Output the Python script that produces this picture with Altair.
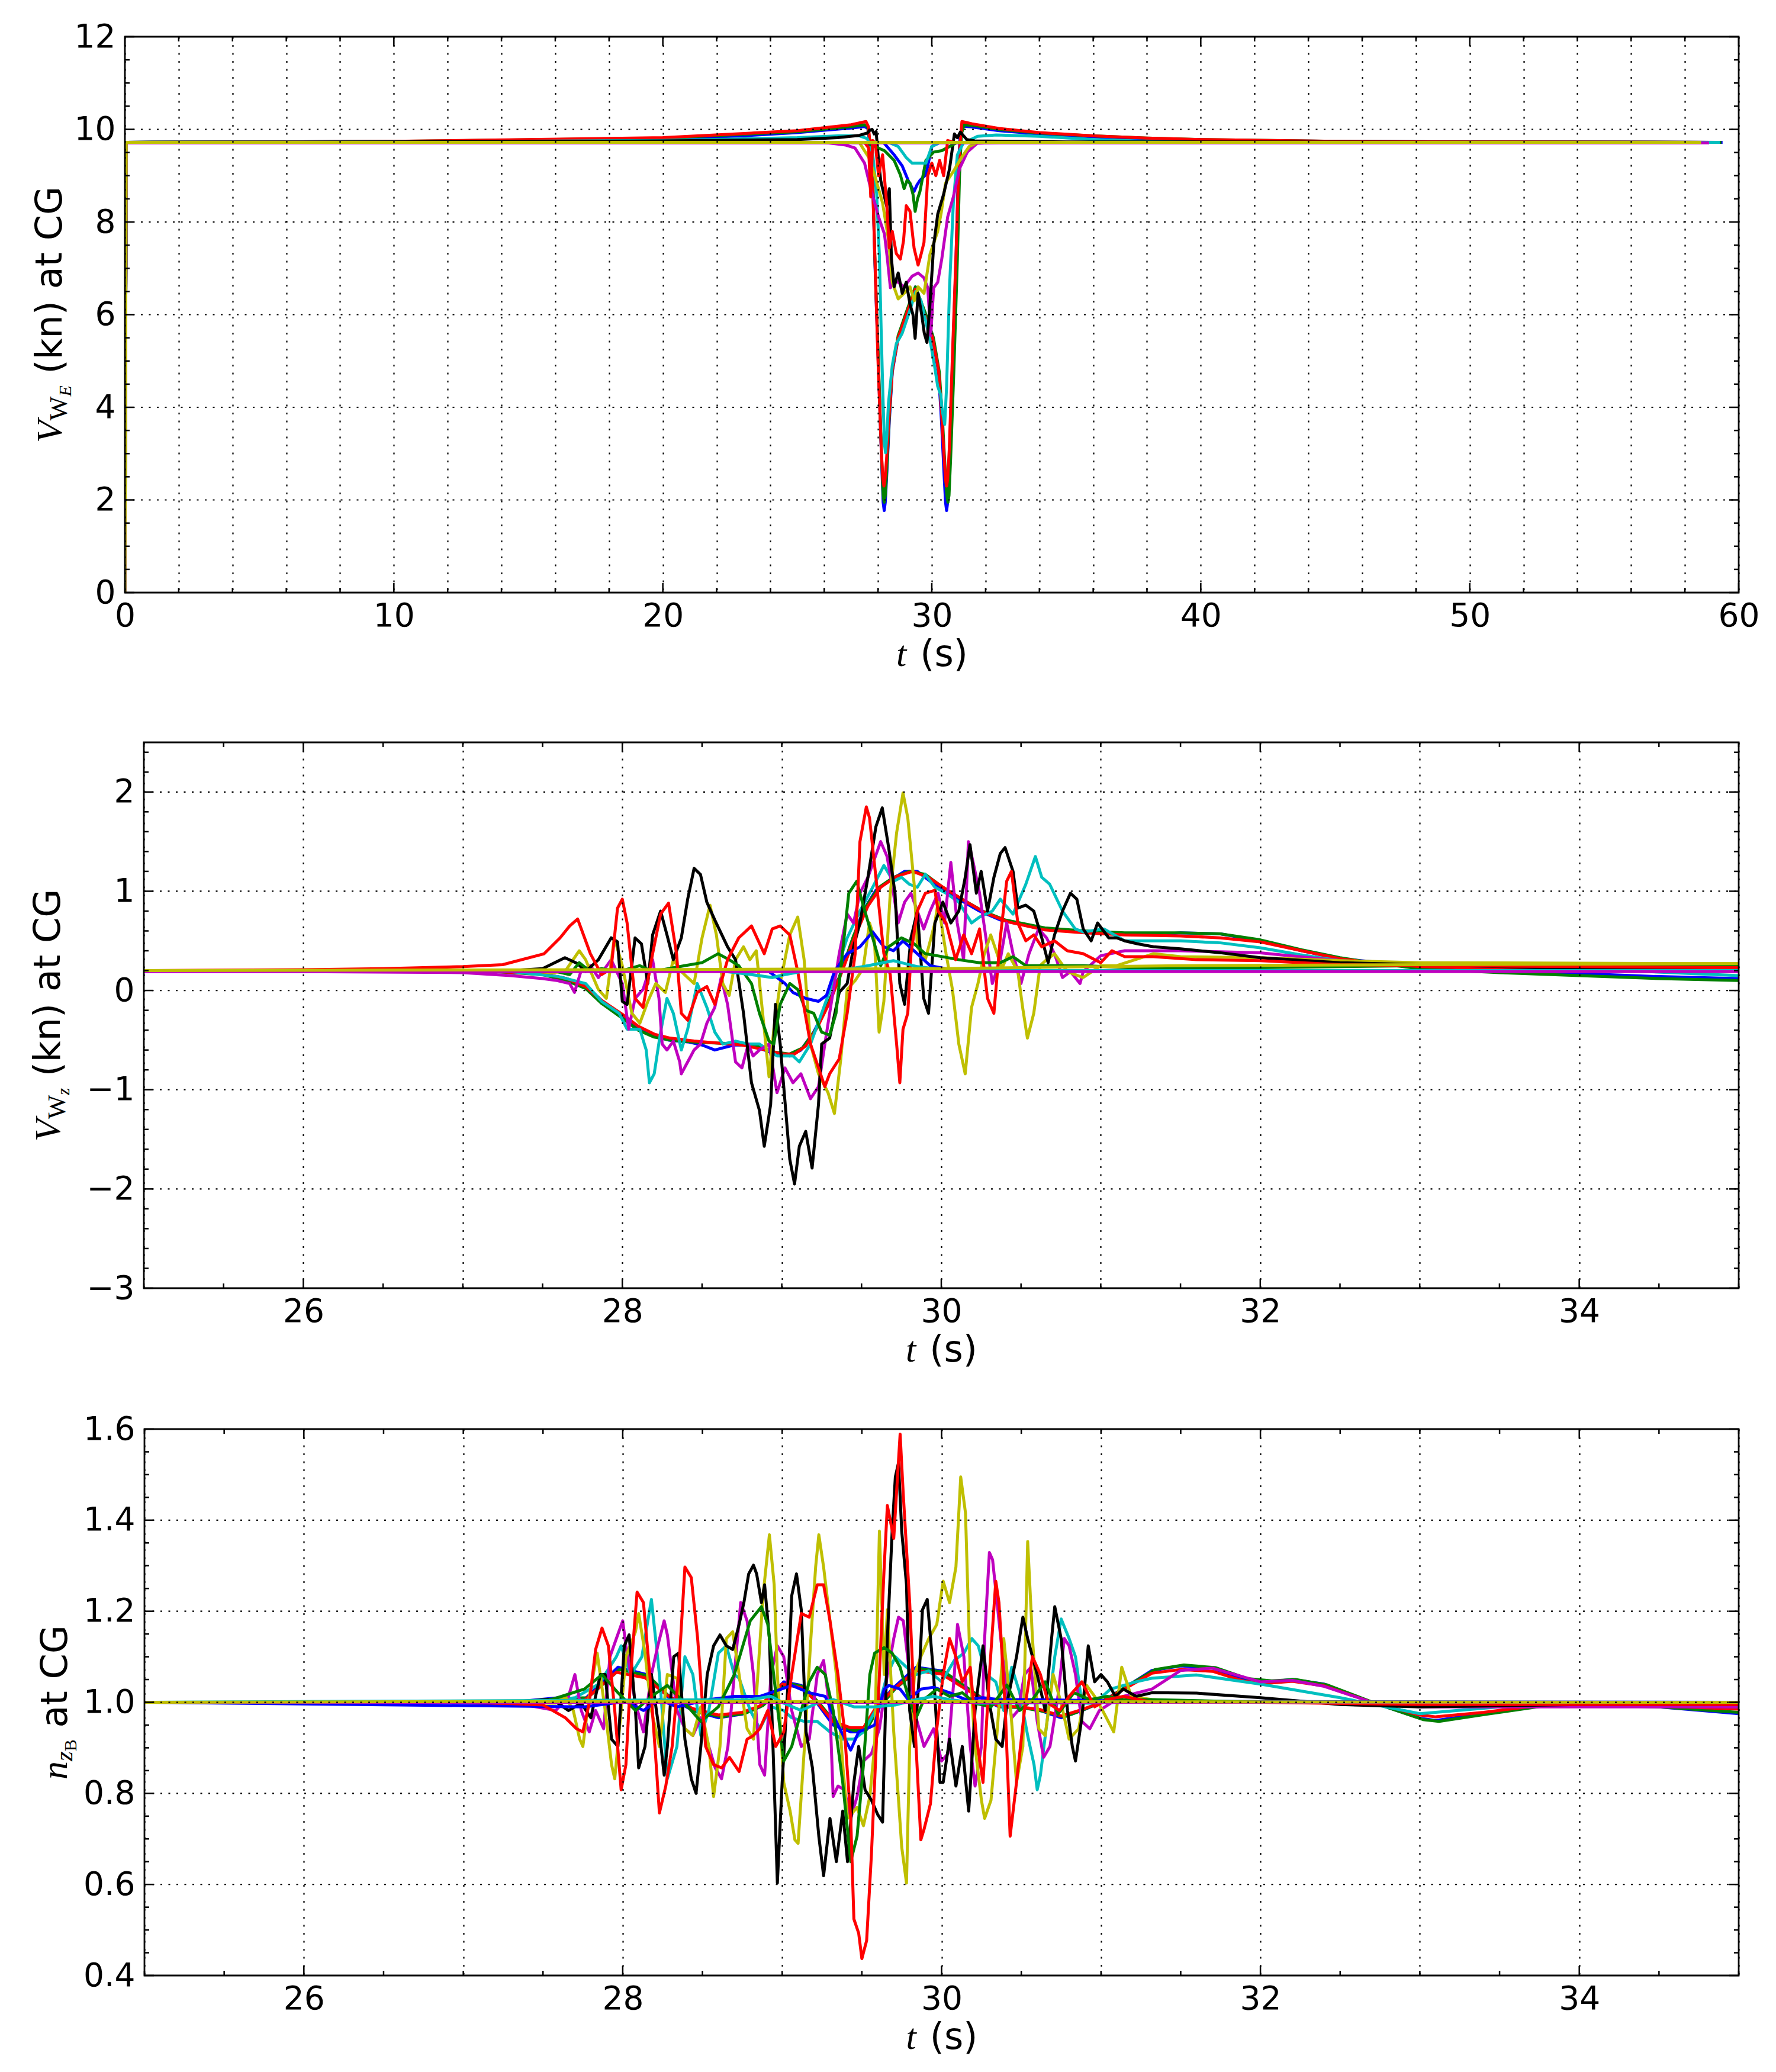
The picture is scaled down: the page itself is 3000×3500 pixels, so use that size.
import altair as alt
import pandas as pd

C_B = "#0000ff"; C_G = "#008000"; C_R = "#ff0000"; C_C = "#00bfbf"
C_M = "#bf00bf"; C_Y = "#bfbf00"; C_K = "#000000"
SANS = "DejaVu Sans"
SERIF = "Liberation Serif"

# ---------------- TOP PANEL: V_WE (kn) vs t (s) ----------------
top_blueA = [(0,0),(0.05,9.72),(5,9.73),(10,9.74),(15,9.76),(20,9.8),(23,9.86),(25,9.93),(26,9.98),(27,10.03),(27.5,10.06),(27.62,10.02),(27.72,9.6),(27.8,9.0),(27.88,7.2),(28.02,4.8),(28.13,2.9),(28.19,1.95),(28.23,1.77),(28.27,1.95),(28.32,2.5),(28.42,3.7),(28.53,4.76),(28.75,5.5),(29.05,6.0),(29.39,6.6),(29.73,6.0),(30.03,5.5),(30.25,4.76),(30.36,3.7),(30.46,2.5),(30.51,1.95),(30.55,1.77),(30.59,1.95),(30.65,2.9),(30.76,4.8),(30.9,7.2),(30.98,9.0),(31.05,9.9),(31.15,10.07),(31.5,10.05),(32.5,9.97),(34,9.9),(36,9.84),(38,9.8),(40,9.77),(45,9.74),(50,9.73),(59.4,9.72)]
top_greenA = [(0,0),(0.05,9.72),(10,9.74),(20,9.81),(25,9.95),(27,10.06),(27.5,10.1),(27.62,10.05),(27.72,9.65),(27.8,9.1),(27.88,7.3),(28.02,4.9),(28.13,3.0),(28.19,2.1),(28.23,1.95),(28.27,2.1),(28.32,2.6),(28.42,3.8),(28.53,4.8),(28.75,5.55),(29.05,6.05),(29.39,6.6),(29.75,6.05),(30.06,5.5),(30.28,4.76),(30.4,3.7),(30.5,2.6),(30.56,2.1),(30.6,1.95),(30.64,2.1),(30.7,2.9),(30.82,4.8),(30.95,7.2),(31.03,9.0),(31.1,9.9),(31.2,10.1),(31.6,10.08),(32.5,10.0),(34,9.92),(36,9.86),(38,9.81),(40,9.78),(45,9.74),(50,9.73),(59.35,9.72)]
top_redA = [(0,0),(0.05,9.72),(10,9.74),(20,9.82),(25,9.97),(27,10.1),(27.55,10.17),(27.65,10.05),(27.72,9.5),(27.8,8.8),(27.88,7.3),(28.0,5.0),(28.12,3.1),(28.18,2.45),(28.22,2.3),(28.26,2.45),(28.32,2.9),(28.42,3.9),(28.53,4.8),(28.75,5.5),(29.05,6.0),(29.39,6.55),(29.73,6.0),(30.03,5.5),(30.25,4.8),(30.36,3.9),(30.46,2.9),(30.51,2.45),(30.55,2.3),(30.59,2.45),(30.65,3.1),(30.76,5.0),(30.9,7.3),(30.98,8.8),(31.05,9.7),(31.12,10.17),(31.5,10.12),(32.5,10.02),(34,9.93),(36,9.86),(38,9.81),(40,9.78),(45,9.74),(50,9.73),(59.1,9.72)]
top_cyanA = [(0,0),(0.05,9.72),(10,9.73),(20,9.76),(25,9.82),(26.5,9.86),(27.3,9.86),(27.6,9.8),(27.8,9.5),(27.95,8.6),(28.05,7.3),(28.12,5.6),(28.18,4.3),(28.24,3.2),(28.28,3.02),(28.33,3.4),(28.39,4.1),(28.53,4.9),(28.68,5.37),(28.9,5.6),(29.19,6.1),(29.4,6.5),(29.6,6.3),(29.8,5.8),(29.95,5.4),(30.1,4.9),(30.22,4.45),(30.33,4.27),(30.38,3.96),(30.48,3.63),(30.55,4.45),(30.66,6.6),(30.8,8.4),(30.95,9.45),(31.17,9.7),(31.7,9.85),(32.4,9.88),(34,9.85),(36,9.78),(38,9.74),(40,9.72),(59.3,9.72)]
top_magentaB = [(0,0),(0.05,9.72),(26,9.72),(26.8,9.66),(27.14,9.6),(27.5,9.27),(27.73,8.72),(28.02,8.11),(28.24,7.74),(28.35,7.2),(28.46,6.58),(28.6,6.75),(28.75,6.7),(28.97,6.6),(29.27,6.83),(29.49,6.9),(29.7,6.8),(29.85,6.58),(29.96,5.55),(30.07,6.58),(30.22,6.7),(30.37,7.2),(30.59,8.11),(30.8,8.54),(31.03,9.15),(31.32,9.51),(31.69,9.7),(32.5,9.72),(58.9,9.72)]
top_yellowB = [(0,0),(0.05,9.72),(27.3,9.72),(27.66,9.39),(27.88,9.0),(28.17,8.41),(28.39,7.62),(28.53,6.7),(28.75,6.34),(28.97,6.46),(29.19,6.6),(29.35,6.3),(29.49,6.6),(29.71,6.46),(29.93,7.3),(30.22,7.8),(30.35,8.2),(30.51,8.84),(30.8,9.09),(31.1,9.39),(31.39,9.63),(31.7,9.72),(58.8,9.72)]
top_blackB = [(0,0),(0.05,9.72),(10,9.73),(20,9.75),(25,9.78),(26.5,9.82),(27.3,9.87),(27.6,9.92),(27.7,9.98),(27.78,10.0),(27.86,9.9),(27.93,9.95),(28.02,9.33),(28.1,8.9),(28.17,8.72),(28.32,8.35),(28.42,8.72),(28.5,7.2),(28.6,6.6),(28.75,6.9),(28.9,6.46),(29.05,6.7),(29.19,6.22),(29.3,6.0),(29.38,5.49),(29.49,6.46),(29.63,5.98),(29.72,5.6),(29.82,5.4),(29.93,6.22),(30.07,7.5),(30.22,8.17),(30.44,8.6),(30.66,9.15),(30.84,9.9),(30.95,9.82),(31.06,9.94),(31.3,9.78),(31.6,9.75),(35,9.73),(59.0,9.72)]
top_blueB = [(0,0),(0.05,9.72),(28.2,9.72),(28.6,9.45),(28.9,9.21),(29.12,8.9),(29.34,8.66),(29.45,8.8),(29.56,8.9),(29.78,9.02),(30.0,9.63),(30.3,9.72),(59.2,9.72)]
top_greenB = [(0,0),(0.05,9.72),(27.5,9.72),(27.88,9.63),(28.24,9.54),(28.6,9.33),(28.83,9.02),(28.97,8.72),(29.08,8.9),(29.19,8.84),(29.3,8.6),(29.38,8.23),(29.47,8.5),(29.56,8.66),(29.78,9.33),(30.07,9.51),(30.37,9.54),(30.66,9.63),(30.95,9.72),(59.35,9.72)]
top_redB = [(0,0),(0.05,9.72),(27.5,9.72),(27.65,9.6),(27.73,8.54),(27.8,9.76),(27.9,9.7),(28.02,9.0),(28.17,9.45),(28.32,8.4),(28.42,7.44),(28.53,7.8),(28.68,7.32),(28.83,7.2),(28.95,7.6),(29.05,8.35),(29.19,8.23),(29.34,7.44),(29.49,7.07),(29.6,7.3),(29.71,7.56),(29.85,9.0),(30.0,9.27),(30.15,9.0),(30.29,9.33),(30.44,9.0),(30.59,9.76),(30.8,9.72),(59.1,9.72)]
top_cyanB = [(0,0),(0.05,9.72),(28.4,9.72),(28.75,9.63),(29.05,9.39),(29.27,9.27),(29.78,9.27),(30.0,9.63),(30.3,9.72),(59.3,9.72)]
top_magentaF = [(0,0),(0.05,9.71),(58.9,9.71)]
top_yellowF = [(0,0),(0.05,9.72),(58.6,9.72)]

# ---------------- MIDDLE PANEL: V_Wz (kn) vs t (s) ----------------
mid_blueA = [(25,0.2),(26.5,0.2),(27.2,0.19),(27.5,0.17),(27.65,0.12),(27.77,0.05),(27.87,-0.1),(28.0,-0.25),(28.1,-0.38),(28.2,-0.46),(28.29,-0.5),(28.42,-0.52),(28.5,-0.55),(28.58,-0.6),(28.7,-0.55),(28.81,-0.55),(28.94,-0.63),(29.05,-0.66),(29.12,-0.6),(29.2,-0.42),(29.28,-0.17),(29.36,0.13),(29.44,0.5),(29.51,0.8),(29.59,1.01),(29.67,1.1),(29.77,1.2),(29.85,1.2),(29.98,1.04),(30.11,0.92),(30.24,0.8),(30.37,0.71),(30.63,0.62),(30.89,0.59),(31.1,0.57),(31.33,0.56),(31.5,0.58),(31.75,0.57),(32.0,0.5),(32.26,0.4),(32.5,0.32),(32.7,0.29),(33.0,0.22),(33.48,0.19),(34.0,0.17),(34.5,0.14),(35.0,0.12)]
mid_greenA = [(25,0.2),(26.5,0.2),(27.2,0.19),(27.5,0.16),(27.65,0.1),(27.77,0.02),(27.87,-0.13),(28.0,-0.28),(28.1,-0.4),(28.2,-0.47),(28.3,-0.5),(28.45,-0.52),(28.6,-0.53),(28.75,-0.54),(28.85,-0.56),(28.95,-0.62),(29.05,-0.64),(29.13,-0.58),(29.21,-0.4),(29.29,-0.14),(29.37,0.17),(29.45,0.55),(29.53,0.85),(29.61,1.04),(29.7,1.14),(29.8,1.2),(29.9,1.17),(30.0,1.05),(30.13,0.92),(30.26,0.8),(30.4,0.71),(30.65,0.63),(30.9,0.6),(31.15,0.58),(31.5,0.58),(31.75,0.57),(32.0,0.51),(32.26,0.41),(32.5,0.33),(32.7,0.28),(33.0,0.22),(33.5,0.18),(34.0,0.15),(34.5,0.12),(35.0,0.1)]
mid_redA = [(25,0.2),(26.5,0.2),(27.2,0.19),(27.5,0.17),(27.65,0.12),(27.77,0.04),(27.87,-0.1),(28.0,-0.24),(28.1,-0.36),(28.2,-0.44),(28.3,-0.48),(28.45,-0.51),(28.6,-0.53),(28.75,-0.55),(28.9,-0.6),(29.0,-0.64),(29.08,-0.64),(29.15,-0.56),(29.22,-0.38),(29.3,-0.12),(29.38,0.2),(29.46,0.55),(29.54,0.85),(29.62,1.04),(29.72,1.15),(29.82,1.2),(29.92,1.14),(30.02,1.03),(30.15,0.9),(30.28,0.78),(30.42,0.69),(30.65,0.61),(30.9,0.58),(31.15,0.56),(31.5,0.55),(31.75,0.53),(32.0,0.49),(32.26,0.4),(32.5,0.32),(32.7,0.28),(33.0,0.24),(33.5,0.22),(34.0,0.21),(35.0,0.2)]
mid_cyanA = [(25,0.2),(26.5,0.2),(27.3,0.19),(27.6,0.14),(27.77,0.07),(27.87,-0.11),(27.98,-0.23),(28.03,-0.39),(28.11,-0.39),(28.15,-0.6),(28.17,-0.93),(28.2,-0.84),(28.24,-0.42),(28.28,-0.08),(28.32,-0.23),(28.37,-0.6),(28.41,-0.39),(28.47,0.07),(28.53,-0.17),(28.58,-0.42),(28.63,-0.54),(28.71,-0.51),(28.79,-0.54),(28.86,-0.54),(28.97,-0.66),(29.07,-0.66),(29.11,-0.72),(29.18,-0.54),(29.25,-0.23),(29.33,0.13),(29.41,0.53),(29.49,0.8),(29.57,1.04),(29.64,1.26),(29.7,1.1),(29.75,1.14),(29.8,1.07),(29.85,1.04),(29.9,1.17),(29.96,1.04),(30.03,0.98),(30.11,0.89),(30.19,0.68),(30.24,0.74),(30.32,0.8),(30.37,0.92),(30.45,0.77),(30.53,1.07),(30.59,1.35),(30.63,1.14),(30.68,1.07),(30.76,0.8),(30.84,0.62),(30.89,0.59),(31.02,0.62),(31.15,0.5),(31.33,0.5),(31.5,0.5),(31.75,0.48),(32.0,0.43),(32.25,0.36),(32.5,0.3),(33.0,0.27),(34.0,0.22),(35.0,0.15)]
mid_magentaB = [(25,0.2),(27.0,0.18),(27.3,0.15),(27.5,0.12),(27.59,0.1),(27.67,0.07),(27.7,-0.02),(27.74,0.19),(27.8,0.25),(27.85,0.13),(27.93,0.31),(28.0,0.07),(28.04,-0.39),(28.08,-0.08),(28.13,0.01),(28.19,0.31),(28.23,-0.08),(28.25,-0.54),(28.28,-0.6),(28.32,-0.51),(28.36,-0.72),(28.37,-0.84),(28.41,-0.72),(28.45,-0.6),(28.49,-0.54),(28.53,-0.33),(28.58,-0.17),(28.62,0.13),(28.66,-0.14),(28.71,-0.72),(28.75,-0.78),(28.79,-0.54),(28.82,-0.66),(28.86,-0.6),(28.92,-0.54),(28.97,-1.03),(29.02,-0.78),(29.07,-0.93),(29.12,-0.84),(29.18,-1.09),(29.23,-0.97),(29.27,-0.54),(29.3,-0.23),(29.36,0.37),(29.41,0.77),(29.45,0.68),(29.49,0.98),(29.54,1.14),(29.58,1.32),(29.62,1.5),(29.66,1.35),(29.7,0.98),(29.73,0.68),(29.77,0.89),(29.81,0.98),(29.85,0.8),(29.89,0.62),(29.93,0.8),(29.98,0.98),(30.02,0.68),(30.06,1.29),(30.1,0.68),(30.14,0.31),(30.17,1.5),(30.2,1.29),(30.24,0.98),(30.28,0.53),(30.32,0.07),(30.37,0.31),(30.41,0.68),(30.45,0.37),(30.5,0.07),(30.55,0.37),(30.61,0.62),(30.66,0.53),(30.71,0.37),(30.76,0.13),(30.81,0.19),(30.87,0.07),(30.89,0.19),(31.0,0.35),(31.15,0.4),(31.33,0.4),(31.5,0.4),(32.0,0.38),(32.5,0.3),(33.0,0.26),(34.0,0.22),(35.0,0.19)]
mid_yellowB = [(25,0.2),(27.4,0.2),(27.55,0.18),(27.64,0.19),(27.73,0.4),(27.77,0.31),(27.85,0.01),(27.9,-0.08),(27.95,0.53),(28.0,0.25),(28.06,-0.23),(28.11,-0.33),(28.16,-0.11),(28.21,0.07),(28.27,-0.02),(28.32,0.31),(28.37,0.19),(28.45,0.07),(28.5,0.53),(28.55,0.86),(28.59,0.56),(28.63,0.07),(28.67,-0.05),(28.71,0.31),(28.76,0.44),(28.8,0.31),(28.84,0.4),(28.88,-0.23),(28.92,-0.87),(28.95,-0.39),(28.99,0.07),(29.05,0.56),(29.1,0.74),(29.14,0.31),(29.18,-0.54),(29.23,-0.84),(29.29,-1.03),(29.33,-1.24),(29.37,-0.69),(29.41,0.01),(29.46,0.1),(29.51,0.22),(29.55,0.68),(29.58,0.53),(29.61,-0.42),(29.64,-0.11),(29.68,0.98),(29.72,1.59),(29.76,1.99),(29.79,1.74),(29.83,1.07),(29.85,0.44),(29.9,0.31),(29.96,0.68),(29.98,0.89),(30.03,0.37),(30.07,0.01),(30.11,-0.54),(30.15,-0.84),(30.19,-0.17),(30.23,0.07),(30.27,0.37),(30.31,0.56),(30.35,0.37),(30.38,0.22),(30.42,0.37),(30.48,0.19),(30.51,-0.17),(30.54,-0.48),(30.58,-0.23),(30.62,0.25),(30.66,0.31),(30.71,0.37),(30.79,0.19),(30.89,0.13),(31.0,0.25),(31.1,0.25),(31.33,0.37),(31.5,0.34),(32.0,0.33),(32.5,0.3),(33.0,0.28),(35.0,0.27)]
mid_blackB = [(25,0.2),(27.3,0.2),(27.5,0.22),(27.64,0.33),(27.72,0.27),(27.77,0.19),(27.85,0.31),(27.93,0.53),(27.97,0.49),(28.0,-0.11),(28.03,-0.14),(28.08,0.53),(28.12,0.47),(28.16,0.07),(28.19,0.56),(28.24,0.8),(28.28,0.56),(28.32,0.31),(28.37,0.53),(28.41,0.92),(28.45,1.23),(28.49,1.17),(28.53,0.89),(28.58,0.71),(28.66,0.44),(28.71,0.31),(28.76,-0.23),(28.81,-0.93),(28.86,-1.21),(28.89,-1.57),(28.93,-1.15),(28.96,-0.14),(28.99,-0.54),(29.05,-1.7),(29.08,-1.95),(29.11,-1.57),(29.15,-1.42),(29.19,-1.79),(29.23,-1.15),(29.25,-0.54),(29.3,-0.48),(29.36,-0.02),(29.41,0.07),(29.45,0.44),(29.49,0.68),(29.54,1.14),(29.59,1.65),(29.63,1.84),(29.67,1.44),(29.71,0.98),(29.74,0.07),(29.77,-0.14),(29.81,0.53),(29.85,0.8),(29.89,-0.08),(29.92,-0.23),(29.96,0.68),(30.01,0.89),(30.06,0.68),(30.11,0.8),(30.15,1.14),(30.18,1.47),(30.22,0.98),(30.25,1.2),(30.29,0.8),(30.33,1.14),(30.37,1.38),(30.4,1.44),(30.45,1.2),(30.48,0.83),(30.53,0.86),(30.58,0.8),(30.63,0.53),(30.67,0.28),(30.71,0.56),(30.76,0.8),(30.81,0.98),(30.85,0.92),(30.89,0.62),(30.94,0.5),(30.98,0.68),(31.05,0.53),(31.1,0.53),(31.15,0.5),(31.23,0.47),(31.33,0.44),(31.5,0.42),(31.75,0.38),(32.0,0.33),(32.5,0.28),(33.0,0.26),(34.0,0.22),(35.0,0.2)]
mid_blueB = [(25,0.2),(28.9,0.2),(28.92,0.19),(29.02,0.07),(29.07,-0.02),(29.15,-0.08),(29.23,-0.11),(29.28,-0.05),(29.33,0.19),(29.41,0.37),(29.49,0.44),(29.57,0.59),(29.64,0.44),(29.7,0.4),(29.76,0.5),(29.85,0.37),(29.93,0.25),(30.06,0.21),(30.4,0.2),(35,0.2)]
mid_greenB = [(25,0.2),(27.59,0.19),(27.67,0.16),(27.73,0.28),(27.8,0.19),(27.87,0.22),(27.98,0.19),(28.11,0.25),(28.19,0.19),(28.29,0.22),(28.39,0.25),(28.5,0.28),(28.6,0.37),(28.67,0.31),(28.73,0.25),(28.81,0.07),(28.86,-0.23),(28.92,-0.51),(28.95,-0.54),(28.99,-0.14),(29.05,0.07),(29.1,0.01),(29.15,-0.2),(29.2,-0.23),(29.25,-0.42),(29.3,-0.45),(29.34,-0.23),(29.38,0.37),(29.42,0.98),(29.47,1.1),(29.51,0.86),(29.57,0.53),(29.62,0.25),(29.67,0.44),(29.75,0.53),(29.83,0.47),(29.9,0.37),(30.01,0.34),(30.11,0.31),(30.24,0.28),(30.37,0.28),(30.45,0.34),(30.53,0.25),(30.89,0.25),(31.33,0.22),(32.0,0.23),(33.0,0.25),(35.0,0.25)]
mid_redB = [(25,0.2),(26.0,0.21),(26.5,0.22),(27.0,0.24),(27.25,0.26),(27.51,0.37),(27.61,0.53),(27.67,0.65),(27.72,0.72),(27.8,0.37),(27.87,0.16),(27.93,0.22),(27.97,0.83),(28.0,0.92),(28.03,0.68),(28.08,-0.08),(28.13,-0.17),(28.19,0.37),(28.24,0.77),(28.29,0.88),(28.34,0.37),(28.37,-0.23),(28.41,-0.3),(28.47,-0.02),(28.53,0.04),(28.58,-0.14),(28.66,0.31),(28.73,0.53),(28.81,0.65),(28.89,0.37),(28.94,0.62),(28.99,0.65),(29.05,0.56),(29.1,0.19),(29.18,-0.54),(29.27,-0.97),(29.3,-0.84),(29.36,-0.69),(29.41,-0.23),(29.46,0.37),(29.49,1.5),(29.53,1.85),(29.55,1.74),(29.59,1.14),(29.64,0.37),(29.68,0.16),(29.72,-0.54),(29.74,-0.93),(29.76,-0.39),(29.79,-0.23),(29.81,0.37),(29.85,0.8),(29.9,0.98),(29.96,1.01),(29.98,0.8),(30.03,0.68),(30.09,0.31),(30.14,0.56),(30.19,0.37),(30.24,0.62),(30.29,-0.08),(30.33,-0.23),(30.37,0.53),(30.41,1.1),(30.44,1.2),(30.48,0.68),(30.53,0.5),(30.58,0.56),(30.63,0.44),(30.71,0.5),(30.79,0.4),(30.89,0.37),(31.0,0.28),(31.07,0.4),(31.15,0.34),(31.33,0.34),(31.6,0.31),(32.0,0.3),(32.5,0.26),(33.0,0.25),(34.0,0.24),(35.0,0.23)]
mid_cyanB = [(25,0.2),(28.6,0.2),(28.81,0.16),(28.94,0.13),(29.02,0.16),(29.12,0.19),(29.33,0.19),(29.54,0.25),(29.7,0.3),(29.85,0.24),(30.01,0.21),(30.4,0.2),(35,0.2)]
mid_magentaF = [(25,0.19),(35,0.19)]
mid_yellowF = [(25,0.2),(28,0.21),(30,0.22),(31.5,0.25),(33,0.26),(35,0.27)]

# ---------------- BOTTOM PANEL: n_zB at CG vs t (s) ----------------
bot_blueA = [(25,1.0),(27.3,1.0),(27.6,1.01),(27.76,1.006),(27.97,1.077),(28.15,1.061),(28.28,1.013),(28.44,0.982),(28.6,0.966),(28.75,0.974),(28.86,0.99),(29.01,1.045),(29.12,1.037),(29.22,0.998),(29.32,0.95),(29.43,0.935),(29.51,0.935),(29.58,0.982),(29.69,1.029),(29.84,1.077),(30.0,1.069),(30.1,1.045),(30.23,1.013),(30.36,0.99),(30.49,0.99),(30.62,0.982),(30.75,0.966),(30.88,0.982),(31.0,1.0),(31.14,1.03),(31.32,1.07),(31.5,1.08),(31.7,1.075),(31.9,1.05),(32.05,1.045),(32.2,1.05),(32.4,1.04),(32.7,1.0),(33.0,0.965),(33.1,0.96),(33.4,0.975),(33.8,0.995),(34.5,0.99),(35.0,0.975)]
bot_greenA = [(25,1.0),(27.3,1.0),(27.6,1.008),(27.78,1.01),(27.98,1.072),(28.16,1.058),(28.3,1.01),(28.46,0.98),(28.62,0.968),(28.77,0.976),(28.88,0.993),(29.03,1.042),(29.14,1.034),(29.24,0.995),(29.34,0.952),(29.45,0.938),(29.53,0.94),(29.6,0.985),(29.71,1.03),(29.86,1.074),(30.02,1.066),(30.12,1.042),(30.25,1.01),(30.38,0.99),(30.51,0.988),(30.64,0.98),(30.77,0.968),(30.9,0.985),(31.02,1.003),(31.16,1.035),(31.34,1.072),(31.52,1.082),(31.72,1.076),(31.92,1.052),(32.07,1.047),(32.22,1.05),(32.42,1.038),(32.72,0.998),(33.02,0.962),(33.12,0.958),(33.42,0.974),(33.82,0.994),(34.5,0.99),(35.0,0.978)]
bot_redA = [(25,1.0),(27.3,1.0),(27.6,1.006),(27.76,1.004),(27.96,1.066),(28.14,1.054),(28.28,1.015),(28.44,0.986),(28.6,0.972),(28.75,0.978),(28.86,0.992),(29.0,1.04),(29.12,1.032),(29.22,1.0),(29.32,0.958),(29.43,0.944),(29.51,0.944),(29.58,0.984),(29.69,1.026),(29.84,1.07),(30.0,1.062),(30.1,1.04),(30.23,1.012),(30.36,0.992),(30.49,0.99),(30.62,0.984),(30.75,0.97),(30.88,0.984),(31.0,1.0),(31.14,1.028),(31.32,1.064),(31.5,1.072),(31.7,1.068),(31.9,1.046),(32.05,1.042),(32.2,1.046),(32.4,1.036),(32.7,1.0),(33.0,0.972),(33.1,0.968),(33.4,0.978),(33.8,0.995),(34.5,0.992),(35.0,0.985)]
bot_cyanA = [(25,1.0),(27.5,1.0),(27.7,1.01),(27.85,1.04),(27.96,1.1),(27.99,1.124),(28.05,1.06),(28.12,1.1),(28.18,1.226),(28.23,1.061),(28.28,0.832),(28.34,0.903),(28.39,1.1),(28.44,1.061),(28.49,0.927),(28.54,0.982),(28.6,1.108),(28.65,1.124),(28.7,1.061),(28.73,1.053),(28.8,0.982),(28.86,0.942),(28.93,0.99),(29.01,0.982),(29.06,0.966),(29.14,0.958),(29.22,0.958),(29.3,0.935),(29.38,0.919),(29.45,0.919),(29.51,0.935),(29.56,0.966),(29.61,0.998),(29.66,1.061),(29.71,1.1),(29.78,1.077),(29.84,1.061),(29.92,1.069),(30.0,1.045),(30.08,1.092),(30.14,1.108),(30.19,1.14),(30.23,1.124),(30.28,1.061),(30.34,1.045),(30.39,0.982),(30.44,1.077),(30.49,1.021),(30.54,0.927),(30.58,0.863),(30.6,0.808),(30.62,0.84),(30.67,0.982),(30.71,1.1),(30.75,1.183),(30.8,1.14),(30.84,1.1),(30.88,0.998),(30.96,0.998),(31.06,1.029),(31.14,1.037),(31.22,1.045),(31.32,1.053),(31.6,1.06),(32.0,1.04),(32.5,1.01),(33.0,0.975),(33.5,0.99),(34.0,0.995),(35.0,0.99)]
bot_magentaB = [(25,1.0),(27.3,1.0),(27.58,0.982),(27.66,1.013),(27.7,1.061),(27.74,0.982),(27.79,0.935),(27.83,0.982),(27.88,0.942),(27.92,1.1),(27.96,1.14),(28.0,1.179),(28.02,1.124),(28.08,0.998),(28.13,0.935),(28.18,1.061),(28.22,1.124),(28.26,1.179),(28.28,1.148),(28.34,0.982),(28.39,0.942),(28.44,0.927),(28.49,0.966),(28.54,0.903),(28.58,0.856),(28.62,0.832),(28.66,0.903),(28.7,1.061),(28.74,1.219),(28.78,1.179),(28.82,1.061),(28.86,0.863),(28.89,0.84),(28.93,1.061),(28.97,1.124),(29.01,1.1),(29.06,0.982),(29.12,0.903),(29.17,0.919),(29.22,1.061),(29.26,1.092),(29.3,0.982),(29.32,0.793),(29.35,0.816),(29.39,0.808),(29.43,0.745),(29.47,0.793),(29.51,0.871),(29.56,0.887),(29.61,0.942),(29.66,1.061),(29.7,1.14),(29.73,1.187),(29.76,1.179),(29.8,1.061),(29.84,0.966),(29.89,0.903),(29.95,0.942),(30.0,0.871),(30.04,0.887),(30.08,1.061),(30.1,1.171),(30.14,1.1),(30.18,0.903),(30.21,0.816),(30.25,0.903),(30.27,1.14),(30.3,1.329),(30.32,1.313),(30.36,1.179),(30.4,1.045),(30.44,0.966),(30.48,0.982),(30.52,1.061),(30.56,1.077),(30.6,0.958),(30.64,0.879),(30.68,0.903),(30.73,1.013),(30.77,1.14),(30.8,1.124),(30.84,1.061),(30.88,0.958),(30.93,0.942),(30.99,0.982),(31.06,0.998),(31.14,1.013),(31.32,1.029),(31.5,1.07),(31.7,1.075),(32.0,1.045),(32.2,1.048),(32.4,1.035),(32.7,1.0),(33.0,0.99),(33.5,0.99),(34.0,0.99),(35.0,0.99)]
bot_yellowB = [(25,1.0),(27.3,1.0),(27.5,0.998),(27.58,0.998),(27.64,1.013),(27.69,0.982),(27.73,0.919),(27.75,0.903),(27.79,1.013),(27.84,1.108),(27.89,0.982),(27.93,0.863),(27.95,0.832),(27.99,0.982),(28.02,1.1),(28.08,1.155),(28.1,1.195),(28.14,1.108),(28.18,0.982),(28.23,0.903),(28.28,1.061),(28.34,1.053),(28.39,0.942),(28.44,0.927),(28.49,0.99),(28.54,0.903),(28.57,0.793),(28.61,0.903),(28.65,1.14),(28.69,1.155),(28.73,1.061),(28.78,0.942),(28.82,0.919),(28.84,1.021),(28.88,1.234),(28.92,1.368),(28.95,1.258),(28.97,1.061),(29.01,0.824),(29.05,0.761),(29.08,0.698),(29.1,0.69),(29.14,0.903),(29.18,1.14),(29.21,1.297),(29.23,1.368),(29.26,1.297),(29.3,1.179),(29.34,1.061),(29.38,0.863),(29.41,0.745),(29.47,0.769),(29.51,0.729),(29.55,0.793),(29.58,0.903),(29.61,1.376),(29.64,1.061),(29.66,1.203),(29.7,0.935),(29.73,0.785),(29.75,0.682),(29.78,0.603),(29.8,0.903),(29.83,1.061),(29.87,1.1),(29.92,1.14),(29.97,1.171),(30.01,1.266),(30.05,1.219),(30.09,1.297),(30.12,1.495),(30.15,1.416),(30.18,1.061),(30.21,0.903),(30.25,0.785),(30.27,0.745),(30.31,0.785),(30.35,0.942),(30.39,1.14),(30.43,0.998),(30.47,0.824),(30.51,0.903),(30.54,1.353),(30.57,1.14),(30.61,0.942),(30.65,0.927),(30.7,1.061),(30.75,0.998),(30.8,0.919),(30.86,0.942),(30.91,1.037),(30.96,1.013),(31.01,0.982),(31.08,0.935),(31.13,1.077),(31.19,1.013),(31.32,1.006),(31.6,1.0),(35,1.0)]
bot_blackB = [(25,1.0),(27.3,1.0),(27.56,1.006),(27.66,0.982),(27.74,0.998),(27.8,0.966),(27.86,1.061),(27.89,1.061),(27.93,0.919),(27.97,0.903),(28.01,1.124),(28.04,1.148),(28.08,0.982),(28.1,0.856),(28.14,0.903),(28.18,1.061),(28.23,0.935),(28.26,0.84),(28.28,0.903),(28.32,1.1),(28.35,1.108),(28.39,0.919),(28.43,0.832),(28.46,0.8),(28.49,0.903),(28.53,1.061),(28.57,1.124),(28.61,1.148),(28.65,1.124),(28.69,1.116),(28.73,1.171),(28.76,1.219),(28.79,1.282),(28.82,1.301),(28.84,1.282),(28.87,1.219),(28.89,1.258),(28.92,1.14),(28.95,0.824),(28.97,0.603),(29.0,0.824),(29.04,1.061),(29.06,1.234),(29.09,1.282),(29.12,1.203),(29.15,0.935),(29.19,0.856),(29.23,0.706),(29.26,0.619),(29.3,0.745),(29.34,0.65),(29.38,0.761),(29.41,0.65),(29.45,0.824),(29.48,0.903),(29.52,0.808),(29.56,0.785),(29.6,0.753),(29.63,0.737),(29.66,1.14),(29.69,1.376),(29.71,1.495),(29.73,1.526),(29.75,1.376),(29.78,1.258),(29.8,0.982),(29.83,0.903),(29.86,1.061),(29.88,1.203),(29.91,1.226),(29.95,1.061),(29.99,0.824),(30.01,0.824),(30.05,0.919),(30.09,0.816),(30.13,0.903),(30.17,0.761),(30.21,0.982),(30.26,1.124),(30.3,0.998),(30.34,0.919),(30.38,0.903),(30.41,0.998),(30.47,1.1),(30.51,1.187),(30.54,1.14),(30.6,1.061),(30.65,0.982),(30.69,1.14),(30.71,1.21),(30.75,1.14),(30.79,0.982),(30.82,0.903),(30.84,0.871),(30.88,0.966),(30.92,1.124),(30.96,1.045),(31.0,1.061),(31.04,1.045),(31.09,1.013),(31.14,1.029),(31.22,1.013),(31.32,1.021),(31.6,1.02),(32.0,1.01),(32.5,0.995),(33.0,0.99),(34.0,0.995),(35.0,0.995)]
bot_blueB = [(25,1.0),(27.76,0.99),(28.02,1.002),(28.13,0.982),(28.23,1.006),(28.34,0.99),(28.44,0.998),(28.54,1.006),(28.7,1.013),(28.86,1.013),(28.96,1.025),(29.06,1.037),(29.17,1.021),(29.27,1.013),(29.35,0.95),(29.43,0.895),(29.48,0.935),(29.53,0.942),(29.58,0.95),(29.64,1.029),(29.67,1.037),(29.74,1.029),(29.79,1.006),(29.87,1.029),(29.95,1.033),(30.05,1.021),(30.15,1.006),(30.26,1.01),(30.36,1.006),(30.57,1.006),(31.32,1.002),(35,1.0)]
bot_greenB = [(25,1.0),(27.5,1.0),(27.76,1.029),(27.87,1.061),(27.97,1.021),(28.08,0.982),(28.18,1.013),(28.28,1.037),(28.39,0.998),(28.49,0.958),(28.6,0.99),(28.7,1.061),(28.8,1.179),(28.87,1.21),(28.91,1.171),(28.96,1.021),(29.01,0.871),(29.06,0.903),(29.12,0.982),(29.17,1.045),(29.22,1.077),(29.27,1.061),(29.32,0.982),(29.38,0.824),(29.43,0.65),(29.47,0.706),(29.51,0.863),(29.55,1.061),(29.58,1.108),(29.64,1.12),(29.69,1.108),(29.74,1.077),(29.79,1.013),(29.84,0.966),(29.89,1.006),(29.97,1.029),(30.05,1.013),(30.13,1.021),(30.21,0.998),(30.31,0.99),(30.41,1.038),(30.49,0.982),(30.57,1.006),(30.65,1.045),(30.73,0.974),(30.83,1.021),(30.93,1.006),(31.04,1.013),(31.14,1.006),(31.32,1.006),(32,1.0),(35,1.0)]
bot_redB = [(25,1.0),(27.0,1.0),(27.3,0.997),(27.5,0.994),(27.64,0.966),(27.71,0.942),(27.75,0.935),(27.79,0.998),(27.83,1.116),(27.87,1.163),(27.91,1.124),(27.95,0.982),(27.99,0.808),(28.02,0.863),(28.05,1.061),(28.09,1.242),(28.13,1.219),(28.17,1.061),(28.21,0.863),(28.23,0.757),(28.27,0.816),(28.31,0.903),(28.35,1.061),(28.39,1.297),(28.43,1.274),(28.47,1.14),(28.52,0.903),(28.57,0.863),(28.62,0.856),(28.67,0.879),(28.73,0.848),(28.78,0.919),(28.82,0.927),(28.86,0.942),(28.91,0.982),(28.96,0.903),(29.01,0.935),(29.06,1.061),(29.12,1.195),(29.17,1.187),(29.22,1.258),(29.26,1.258),(29.3,1.179),(29.35,1.061),(29.39,0.942),(29.43,0.745),(29.45,0.524),(29.48,0.493),(29.5,0.437),(29.53,0.477),(29.56,0.666),(29.6,0.982),(29.64,1.297),(29.66,1.432),(29.7,1.36),(29.74,1.589),(29.76,1.455),(29.8,1.219),(29.84,0.903),(29.87,0.698),(29.89,0.721),(29.93,0.777),(29.97,0.942),(30.01,1.061),(30.05,1.14),(30.09,1.1),(30.13,1.045),(30.18,1.077),(30.22,0.919),(30.26,0.824),(30.3,1.061),(30.34,1.266),(30.36,1.219),(30.4,0.982),(30.43,0.706),(30.47,0.824),(30.52,0.982),(30.57,1.1),(30.62,1.061),(30.67,0.998),(30.74,0.982),(30.8,1.013),(30.88,1.045),(30.96,0.99),(31.04,1.006),(31.14,1.013),(31.32,1.0),(31.6,1.0),(32.0,1.0),(33.0,0.995),(35.0,0.995)]
bot_cyanB = [(25,1.0),(28.8,1.006),(28.93,1.013),(29.01,0.998),(29.12,0.982),(29.22,0.998),(29.32,1.006),(29.45,0.99),(29.58,0.99),(29.71,0.994),(29.84,1.006),(29.95,1.013),(30.05,1.006),(30.23,0.998),(31.32,1.0),(35,1.0)]
bot_magentaF = [(25,1.0),(35,1.0)]
bot_yellowF = [(25,1.0),(27.5,1.002),(35,1.0)]

# drawing order and colours (matplotlib classic cycle)
ORDER = [("blueA", C_B), ("greenA", C_G), ("redA", C_R), ("cyanA", C_C),
         ("magentaB", C_M), ("yellowB", C_Y), ("blackB", C_K), ("blueB", C_B),
         ("greenB", C_G), ("redB", C_R), ("cyanB", C_C), ("magentaF", C_M), ("yellowF", C_Y)]

TOP = {"blueA": top_blueA, "greenA": top_greenA, "redA": top_redA, "cyanA": top_cyanA,
       "magentaB": top_magentaB, "yellowB": top_yellowB, "blackB": top_blackB, "blueB": top_blueB,
       "greenB": top_greenB, "redB": top_redB, "cyanB": top_cyanB, "magentaF": top_magentaF, "yellowF": top_yellowF}
MID = {"blueA": mid_blueA, "greenA": mid_greenA, "redA": mid_redA, "cyanA": mid_cyanA,
       "magentaB": mid_magentaB, "yellowB": mid_yellowB, "blackB": mid_blackB, "blueB": mid_blueB,
       "greenB": mid_greenB, "redB": mid_redB, "cyanB": mid_cyanB, "magentaF": mid_magentaF, "yellowF": mid_yellowF}
BOT = {"blueA": bot_blueA, "greenA": bot_greenA, "redA": bot_redA, "cyanA": bot_cyanA,
       "magentaB": bot_magentaB, "yellowB": bot_yellowB, "blackB": bot_blackB, "blueB": bot_blueB,
       "greenB": bot_greenB, "redB": bot_redB, "cyanB": bot_cyanB, "magentaF": bot_magentaF, "yellowF": bot_yellowF}

# ticks and grid positions
top_x_grid = list(range(0, 61, 2))
top_x_major = [0, 10, 20, 30, 40, 50, 60]
top_x_minor = [v for v in top_x_grid if v % 10]
top_y_major = [0, 2, 4, 6, 8, 10, 12]
top_y_minor = [i * 0.5 for i in range(25) if i % 4]
zoom_x_grid = [25 + 0.5 * i for i in range(21)]
zoom_x_major = [26, 28, 30, 32, 34]
zoom_x_minor = [v for v in zoom_x_grid if v not in zoom_x_major]
mid_y_major = [-3, -2, -1, 0, 1, 2]
mid_y_minor = [round(-3 + 0.2 * i, 2) for i in range(28) if i % 5]
bot_y_major = [round(0.4 + 0.2 * i, 2) for i in range(7)]
bot_y_minor = [round(0.4 + 0.05 * i, 3) for i in range(25) if i % 4]

ONE = pd.DataFrame({"a": [0]})
TICK_MAJ = 16
TICK_MIN = 8
FS_TICK = 55
FS_LAB = 62
GRID_DASH = [3, 10.5]
W_ALL = 2726   # all panels share the same group origin (x = 210 px on the page)


def axis_x(values, expr):
    return alt.Axis(values=values, format="d", labelExpr=expr, grid=True, gridColor="black",
                    gridDash=GRID_DASH, gridWidth=2.2, gridOpacity=1, ticks=False, tickSize=0,
                    domain=False, labelFont=SANS, labelFontSize=FS_TICK, labelColor="black",
                    labelPadding=13, labelOverlap=False, labelFlush=False, zindex=1)


def axis_y(values, fmt, xoff):
    return alt.Axis(values=values, format=fmt, grid=False, ticks=False, tickSize=0,
                    domain=False, labelFont=SANS, labelFontSize=FS_TICK, labelColor="black",
                    labelPadding=16, labelOverlap=False, labelFlush=False, offset=-xoff)


def text_piece(text, font, size, italic, x, y, angle=None, align="left"):
    kw = dict(text=text, font=font, fontSize=size, align=align, baseline="alphabetic", color="black")
    if italic:
        kw["fontStyle"] = "italic"
    if angle is not None:
        kw["angle"] = angle
    return alt.Chart(ONE).mark_text(**kw).encode(x=alt.value(x), y=alt.value(y))


def panel(series, xoff, H, xdom, ydom, xgrid, xexpr, ygrid, yfmt,
          xmaj, xmin, ymaj, ymin, ypieces, ybase, anchor):
    W = W_ALL
    xs = alt.Scale(domain=xdom, range=[xoff, W], nice=False, zero=False)
    ys = alt.Scale(domain=ydom, nice=False, zero=False)
    X = alt.X("t:Q", scale=xs, axis=axis_x(xgrid, xexpr), title=None)
    Y = alt.Y("v:Q", scale=ys, axis=axis_y(ygrid, yfmt, xoff), title=None)
    layers = []
    for name, color in ORDER:
        pts = series[name]
        df = pd.DataFrame({"t": [p[0] for p in pts], "v": [p[1] for p in pts]})
        layers.append(alt.Chart(df).mark_line(color=color, strokeWidth=5, clip=True,
                                              strokeJoin="round").encode(x=X, y=Y))
    # horizontal dotted grid (major y only)
    dg = pd.DataFrame({"v": ygrid})
    layers.append(alt.Chart(dg).mark_rule(color="black", strokeWidth=2.2, strokeDash=GRID_DASH).encode(
        y=Y, x=alt.value(xoff), x2=alt.value(W)))
    # inward ticks on all four sides
    for vals, ln in ((xmaj, TICK_MAJ), (xmin, TICK_MIN)):
        d = pd.DataFrame({"t": vals})
        layers.append(alt.Chart(d).mark_rule(color="black", strokeWidth=2.5).encode(
            x=X, y=alt.value(H - ln), y2=alt.value(H)))
        layers.append(alt.Chart(d).mark_rule(color="black", strokeWidth=2.5).encode(
            x=X, y=alt.value(0), y2=alt.value(ln)))
    for vals, ln in ((ymaj, TICK_MAJ), (ymin, TICK_MIN)):
        d = pd.DataFrame({"v": vals})
        layers.append(alt.Chart(d).mark_rule(color="black", strokeWidth=2.5).encode(
            y=Y, x=alt.value(xoff), x2=alt.value(xoff + ln)))
        layers.append(alt.Chart(d).mark_rule(color="black", strokeWidth=2.5).encode(
            y=Y, x=alt.value(W - ln), x2=alt.value(W)))
    # frame
    layers.append(alt.Chart(ONE).mark_rect(fillOpacity=0, stroke="black", strokeWidth=2.8).encode(
        x=alt.value(xoff), x2=alt.value(W), y=alt.value(0), y2=alt.value(H)))
    # y title (mathtext-like pieces, rotated)
    total = sum(p[4] for p in ypieces)
    ypos = H / 2 + total / 2
    for text, font, size, italic, adv, shift in ypieces:
        layers.append(text_piece(text, font, size, italic, ybase + shift, ypos, angle=270))
        ypos -= adv
    # x title: t (s)
    x0 = (xoff + W) / 2 - 60
    layers.append(text_piece("t", SERIF, FS_LAB, True, x0, H + 124))
    layers.append(text_piece("(s)", SANS, FS_LAB, False, x0 + 17.2 + 23, H + 124))
    # invisible bounds anchor
    ax0, ay0, ay1 = anchor
    layers.append(alt.Chart(ONE).mark_rect(opacity=0).encode(
        x=alt.value(ax0), x2=alt.value(ax0 + 1), y=alt.value(ay0), y2=alt.value(ay1)))
    return alt.layer(*layers).properties(width=W, height=H)


top_pieces = [("V", SERIF, 62, True, 37.9, 0), ("W", SERIF, 43, False, 40.6, 9),
              ("E", SERIF, 30, True, 38.0, 16), ("(kn) at CG", SANS, FS_LAB, False, 316.6, 0)]
mid_pieces = [("V", SERIF, 62, True, 37.9, 0), ("W", SERIF, 43, False, 40.6, 9),
              ("z", SERIF, 30, True, 31.4, 16), ("(kn) at CG", SANS, FS_LAB, False, 316.6, 0)]
bot_pieces = [("n", SERIF, 62, True, 31.0, 0), ("z", SERIF, 43, True, 16.7, 9),
              ("B", SERIF, 30, False, 39.7, 16), ("at CG", SANS, FS_LAB, False, 173.4, 0)]

top = panel(TOP, 0, 939, [0, 60], [0, 12], top_x_grid,
            "datum.value % 10 === 0 ? datum.label : ''", top_y_major, "d",
            top_x_major, top_x_minor, top_y_major, top_y_minor, top_pieces, -107,
            (-202, -53, 1089))
mid = panel(MID, 32, 922, [25, 35], [-3, 2.5], zoom_x_grid,
            "datum.value % 2 === 0 ? datum.label : ''", mid_y_major, "d",
            zoom_x_major, zoom_x_minor, mid_y_major, mid_y_minor, mid_pieces, -110,
            (-202, -101, 1069))
bot = panel(BOT, 33, 923, [25, 35], [0.4, 1.6], zoom_x_grid,
            "datum.value % 2 === 0 ? datum.label : ''", bot_y_major, ".1f",
            zoom_x_major, zoom_x_minor, bot_y_major, bot_y_minor, bot_pieces, -98,
            (-202, -89, 1080))

chart = alt.concat(top, mid, bot, columns=1, spacing=0).properties(
    padding=0
).configure_view(stroke="transparent")

chart.save("out.html", embed_options={"renderer": "svg", "actions": False})
